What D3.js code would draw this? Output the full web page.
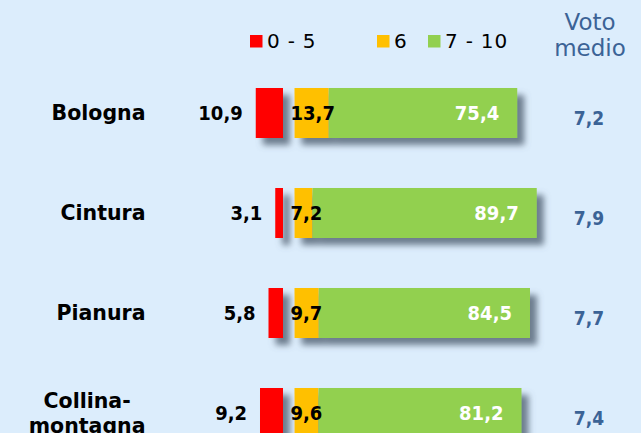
<!DOCTYPE html>
<html>
<head>
<meta charset="utf-8">
<script src="https://cdn.jsdelivr.net/npm/d3@7"></script>
<style>
  html, body { margin: 0; padding: 0; background: #dcedfc; }
  svg { display: block; }
</style>
</head>
<body>
<div id="chart"></div>
<script>
// Data
var categories = ["Bologna", "Cintura", "Pianura", "Collina-\nmontagna"];
var low = [10.9, 3.1, 5.8, 9.2];       // 0 - 5
var mid = [13.7, 7.2, 9.7, 9.6];       // 6
var high = [75.4, 89.7, 84.5, 81.2];   // 7 - 10
var voto = ["7,2", "7,9", "7,7", "7,4"];
var legendLabels = ["0 - 5", "6", "7 - 10"];

var colors = ["#ff0000", "#ffc000", "#92d050"];
var fmt = d => d.toFixed(1).replace(".", ",");

var svgWidth = 641;
var svgHeight = 433;

var svg = d3.select("#chart")
  .append("svg")
  .attr("width", svgWidth)
  .attr("height", svgHeight);

svg.append("rect")
  .attr("width", svgWidth)
  .attr("height", svgHeight)
  .attr("fill", "#dcedfc");

// drop shadow like the office chart
var defs = svg.append("defs");
defs.append("filter")
  .attr("id", "shadow")
  .attr("x", "-20%").attr("y", "-30%")
  .attr("width", "150%").attr("height", "180%")
  .append("feDropShadow")
  .attr("dx", 7)
  .attr("dy", 7)
  .attr("stdDeviation", 3)
  .attr("flood-color", "#5a6a7a")
  .attr("flood-opacity", 0.85);

// scales: positive side starts right of a small gap, negative side grows left
var xPos = d3.scaleLinear().domain([0, 100]).range([294.5, 544.5]);
var xNeg = d3.scaleLinear().domain([0, 100]).range([283, 33]);

var y = d3.scaleBand()
  .domain(categories)
  .range([63, 463])
  .paddingInner(0.5)
  .paddingOuter(0.25);

var rows = categories.map((c, i) => ({
  cat: c, low: low[i], mid: mid[i], high: high[i], voto: voto[i]
}));

// bars
var barGroup = svg.append("g");
var row = barGroup.selectAll("g.row")
  .data(rows)
  .enter()
  .append("g")
  .attr("class", "row")
  .attr("filter", "url(#shadow)");

row.append("rect")
  .attr("x", d => xNeg(d.low))
  .attr("y", d => y(d.cat))
  .attr("width", d => xNeg(0) - xNeg(d.low))
  .attr("height", y.bandwidth())
  .attr("fill", colors[0]);

row.append("rect")
  .attr("x", xPos(0))
  .attr("y", d => y(d.cat))
  .attr("width", d => xPos(d.mid) - xPos(0))
  .attr("height", y.bandwidth())
  .attr("fill", colors[1]);

row.append("rect")
  .attr("x", d => xPos(d.mid))
  .attr("y", d => y(d.cat))
  .attr("width", d => xPos(d.mid + d.high) - xPos(d.mid))
  .attr("height", y.bandwidth())
  .attr("fill", colors[2]);

// value labels
var numFont = "'DejaVu Sans Condensed', 'DejaVu Sans', sans-serif";
var labels = svg.append("g")
  .style("font-family", numFont)
  .style("font-weight", "bold")
  .style("font-size", "20px");

var cy = d => y(d.cat) + y.bandwidth() / 2;

labels.selectAll("text.low")
  .data(rows).enter().append("text")
  .attr("class", "low")
  .attr("x", d => xNeg(d.low) - 13)
  .attr("y", cy)
  .attr("dy", "0.36em")
  .attr("text-anchor", "end")
  .attr("fill", "#000")
  .text(d => fmt(d.low));

labels.selectAll("text.mid")
  .data(rows).enter().append("text")
  .attr("class", "mid")
  .attr("x", xPos(0) - 4)
  .attr("y", cy)
  .attr("dy", "0.36em")
  .attr("fill", "#000")
  .text(d => fmt(d.mid));

labels.selectAll("text.high")
  .data(rows).enter().append("text")
  .attr("class", "high")
  .attr("x", d => xPos(d.mid + d.high) - 18)
  .attr("y", cy)
  .attr("dy", "0.36em")
  .attr("text-anchor", "end")
  .attr("fill", "#fff")
  .text(d => fmt(d.high));

// voto medio column
labels.selectAll("text.voto")
  .data(rows).enter().append("text")
  .attr("class", "voto")
  .attr("x", 589)
  .attr("y", d => cy(d) + 5)
  .attr("dy", "0.36em")
  .attr("text-anchor", "middle")
  .style("font-size", "19px")
  .attr("fill", "#3b6396")
  .text(d => d.voto);

var head = svg.append("text")
  .attr("text-anchor", "middle")
  .style("font-family", "'DejaVu Sans', sans-serif")
  .style("font-size", "23px")
  .attr("fill", "#3b6396");
head.append("tspan").attr("x", 590).attr("y", 30).text("Voto");
head.append("tspan").attr("x", 590).attr("y", 56).text("medio");

// category labels (multi-line centred inside a right aligned block)
var catGroup = svg.append("g")
  .style("font-family", "'DejaVu Sans', sans-serif")
  .style("font-weight", "bold")
  .style("font-size", "20.5px")
  .attr("fill", "#000");

rows.forEach(function(d) {
  var lines = d.cat.split("\n");
  var t = catGroup.append("text").attr("text-anchor", "middle");
  var lh = 25;
  var spans = lines.map((l, j) => t.append("tspan")
    .attr("y", cy(d) + (j - (lines.length - 1) / 2) * lh)
    .attr("dy", "0.36em")
    .text(l));
  var maxW = d3.max(spans, s => s.node().getComputedTextLength());
  spans.forEach(s => s.attr("x", 145.5 - maxW / 2));
});

// legend
var legend = svg.append("g")
  .style("font-family", "'DejaVu Sans', sans-serif")
  .style("font-size", "20px")
  .style("letter-spacing", "0.8px");
var legX = [250, 377, 428];
legendLabels.forEach(function(l, i) {
  legend.append("rect")
    .attr("x", legX[i])
    .attr("y", 35)
    .attr("width", 12.5)
    .attr("height", 12.5)
    .attr("fill", colors[i]);
  legend.append("text")
    .attr("x", legX[i] + 17)
    .attr("y", 48)
    .attr("fill", "#000")
    .text(l);
});
</script>
</body>
</html>
